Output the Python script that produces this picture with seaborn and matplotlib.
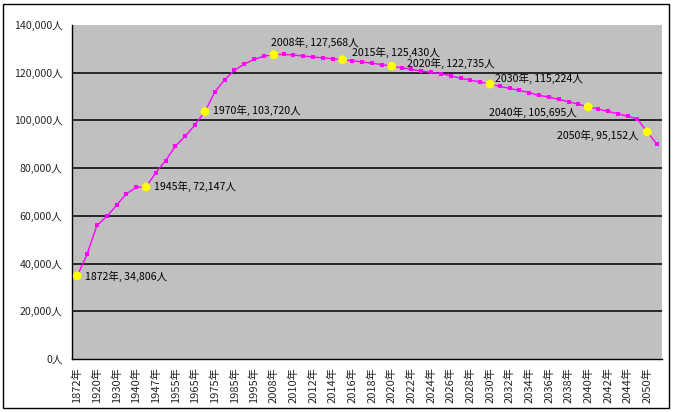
import matplotlib
matplotlib.use("Agg")
import matplotlib.pyplot as plt
import seaborn as sns
import pandas as pd
import numpy as np
from matplotlib.patches import Rectangle
from matplotlib.ticker import FuncFormatter

# ---- data ----
years = [1872, 1900, 1920, 1925, 1930, 1935, 1940, 1945, 1947, 1950,
         1955, 1960, 1965, 1970, 1975, 1980, 1985, 1990, 1995, 2000,
         2008, 2009, 2010, 2011, 2012, 2013, 2014, 2015, 2016, 2017,
         2018, 2019, 2020, 2021, 2022, 2023, 2024, 2025, 2026, 2027,
         2028, 2029, 2030, 2031, 2032, 2033, 2034, 2035, 2036, 2037,
         2038, 2039, 2040, 2041, 2042, 2043, 2044, 2045, 2050, 2055]
population = [34806, 43847, 55963, 59737, 64450, 69254, 71933, 72147, 78101, 83200,
              89276, 93419, 98275, 103720, 111940, 117060, 121049, 123611, 125570, 126926,
              127568, 127700, 127400, 127000, 126600, 126200, 125900, 125430, 125000, 124500,
              124000, 123400, 122735, 122100, 121400, 120700, 120100, 119600, 118700, 117700,
              116900, 116100, 115224, 114300, 113400, 112600, 111600, 110500, 109800, 108800,
              107800, 106800, 105695, 104800, 103800, 102800, 101800, 100600, 95152, 90000]
highlight_years = [1872, 1945, 1970, 2008, 2015, 2020, 2030, 2040, 2050]
y_ticks = [0, 20000, 40000, 60000, 80000, 100000, 120000, 140000]

# label placement (pixels offset, alignment)
label_style = {1872: (8, 0, "left"), 1945: (8, 0, "left"), 1970: (8, 1, "left"),
               2008: (-3, 12, "left"), 2015: (9, 7, "left"), 2020: (15, 3, "left"),
               2030: (5, 6, "left"), 2040: (-12, -6, "right"), 2050: (-9, -3, "right")}

sns.set_style("white")
plt.rcParams["font.family"] = ["Noto Sans CJK JP", "DejaVu Sans"]

df = pd.DataFrame({"year": years, "pop": population})
df["pos"] = np.arange(len(df))
hl = df[df["year"].isin(highlight_years)]

fig = plt.figure(figsize=(6.81, 4.12), dpi=100)
fig.patches.append(Rectangle((3 / 681, 4 / 412), 666 / 681, 404 / 412,
                             transform=fig.transFigure, fill=False,
                             edgecolor="black", linewidth=1))
ax = fig.add_axes([72.3 / 681, 1 - 359 / 412, (662 - 72.3) / 681, (359 - 25) / 412])
ax.set_facecolor("#c0c0c0")

for t in y_ticks[1:-1]:
    ax.axhline(t, color="black", linewidth=1.1, zorder=1)

sns.lineplot(data=df, x="pos", y="pop", color="#ff00ff", linewidth=1,
             marker="s", markersize=3.2, markeredgewidth=0, ax=ax, zorder=3)
sns.scatterplot(data=hl, x="pos", y="pop", color="#ffff00", s=40,
                edgecolor="none", ax=ax, zorder=4)

for _, r in hl.iterrows():
    dx, dy, ha = label_style[int(r["year"])]
    ax.annotate(f"{int(r['year'])}年, {int(r['pop']):,}人", (r["pos"], r["pop"]),
                xytext=(dx, dy), textcoords="offset pixels", ha=ha, va="center",
                fontsize=7.6, color="black", zorder=5)

n = len(df)
ax.set_xlim(-0.5, n - 0.5)
ax.set_ylim(y_ticks[0], y_ticks[-1])
ax.set_xticks(df["pos"][::2])
ax.set_xticklabels([f"{y}年" for y in df["year"][::2]], rotation=90, fontsize=8)
ax.set_xticks(np.arange(n - 1) + 0.5, minor=True)
ax.tick_params(axis="x", which="major", length=0, pad=6)
ax.tick_params(axis="x", which="minor", direction="in", length=3, width=1, color="black")
ax.set_yticks(y_ticks)
ax.yaxis.set_major_formatter(FuncFormatter(lambda v, p: f"{int(v):,}人"))
ax.tick_params(axis="y", length=0, pad=7, labelsize=7.6)
ax.set_xlabel("")
ax.set_ylabel("")
for s in ["top", "right"]:
    ax.spines[s].set_visible(False)
for s in ["left", "bottom"]:
    ax.spines[s].set_color("black")
    ax.spines[s].set_linewidth(1)

fig.savefig("out.png", dpi=100)
